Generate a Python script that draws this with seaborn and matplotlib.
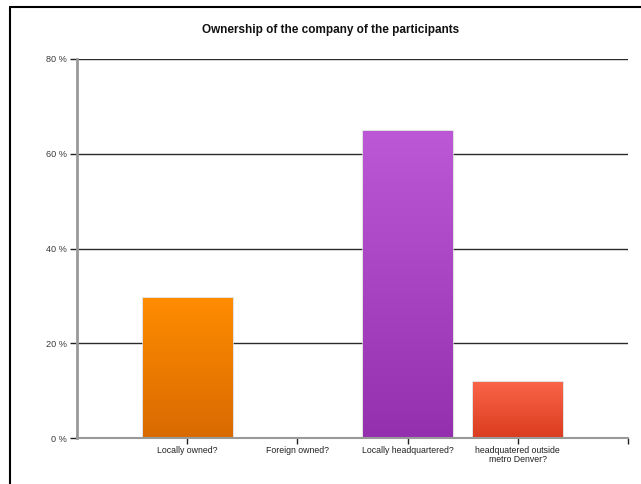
import numpy as np
import pandas as pd
import matplotlib
matplotlib.use("Agg")
import matplotlib.pyplot as plt
from matplotlib.colors import LinearSegmentedColormap
from matplotlib.lines import Line2D
import seaborn as sns

# Survey answers: share of participants (%)
categories = ["Locally owned?", "Foreign owned?", "Locally headquartered?",
              "headquatered outside\nmetro Denver?"]
shares = [29.5, 0.0, 64.8, 11.8]
# gradient colours per bar (top, bottom)
top_colors = ["#FF8C00", "#A9A9A9", "#BC57D5", "#FA6448"]
bottom_colors = ["#D96A00", "#8A8A8A", "#9430AE", "#DA3C1F"]
y_ticks = [0, 20, 40, 60, 80]
y_tick_labels = ["0 %", "20 %", "40 %", "60 %", "80 %"]
title = "Ownership of the company of the participants"

sns.set_theme(style="white")
plt.rcParams["font.family"] = ["Liberation Sans", "DejaVu Sans"]

fig = plt.figure(figsize=(6.41, 4.84), dpi=100)
ax = fig.add_axes([77 / 641, 1 - 438 / 484, (628 - 77) / 641, (438 - 59) / 484])

df = pd.DataFrame({"category": categories, "share": shares})
sns.barplot(data=df, x="category", y="share", ax=ax, width=0.81,
            color="#cccccc", edgecolor="#d8d8d8", linewidth=1.8, zorder=3)

ax.set_xlim(-1, 4)
ax.set_ylim(0, 80)

# vertical colour gradient inside each bar
for patch, c_top, c_bot in zip(ax.patches, top_colors, bottom_colors):
    x0, y0 = patch.get_x(), patch.get_y()
    w, h = patch.get_width(), patch.get_height()
    if h <= 0:
        continue
    cmap = LinearSegmentedColormap.from_list("g", [c_bot, c_top])
    grad = np.linspace(0, 1, 256).reshape(-1, 1)
    im = ax.imshow(grad, cmap=cmap, origin="lower", aspect="auto",
                   extent=[x0, x0 + w, y0, y0 + h], zorder=3.5)
    im.set_clip_path(patch)
ax.set_xlim(-1, 4)
ax.set_ylim(0, 80)

# horizontal grid lines
for yv in y_ticks[1:]:
    ax.axhline(yv, color="#2a2a2a", linewidth=1.0, zorder=1)

ax.set_yticks(y_ticks)
ax.set_yticklabels(y_tick_labels, fontsize=6.6, color="#3a3a3a")
ax.set_xticks([0, 1, 2, 3, 4])
ax.set_xticklabels(categories + [""], fontsize=6.3, color="#222222",
                   linespacing=1.0)
ax.tick_params(axis="y", left=True, length=5, width=1.0, color="#222222", pad=2)
ax.tick_params(axis="x", bottom=True, length=4, width=1.0, color="#222222", pad=2)
ax.set_xlabel("")
ax.set_ylabel("")

for side in ["top", "right"]:
    ax.spines[side].set_visible(False)
ax.spines["left"].set_color("#999999")
ax.spines["left"].set_linewidth(2)
ax.spines["bottom"].set_color("#999999")
ax.spines["bottom"].set_linewidth(1.5)
ax.spines["left"].set_zorder(5)
ax.spines["bottom"].set_zorder(5)

fig.text(331 / 641, 1 - 30 / 484, title, ha="center", va="center",
         fontsize=8.5, fontweight="bold", color="#111111")

# outer frame: left and top edges
W, H = 641, 484
frame = [((9.5, 9.5), (7, H)), ((9.5, W), (7, 7))]
for xs, ys in frame:
    fig.add_artist(Line2D([x / W for x in xs], [1 - y / H for y in ys],
                          color="black", linewidth=1.5, transform=fig.transFigure))

fig.savefig("out.png", dpi=100)
